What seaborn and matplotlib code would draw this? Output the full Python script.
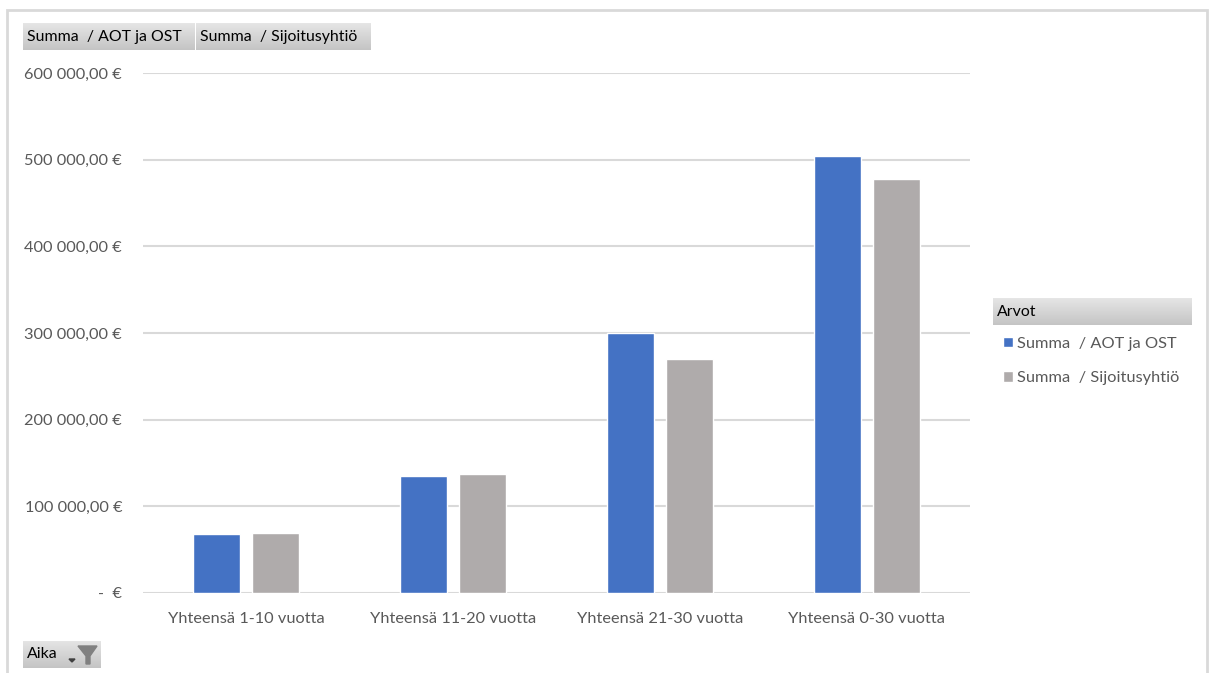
import numpy as np
import pandas as pd
import matplotlib
matplotlib.use("Agg")
import matplotlib.pyplot as plt
from matplotlib.patches import Rectangle, Polygon
import seaborn as sns

categories = ["Yhteensä 1-10 vuotta", "Yhteensä 11-20 vuotta",
              "Yhteensä 21-30 vuotta", "Yhteensä 0-30 vuotta"]
series_names = ["Summa  / AOT ja OST", "Summa  / Sijoitusyhtiö"]
aot_values = [68500, 135500, 300500, 504500]
sij_values = [69500, 137500, 270500, 477500]
y_ticks = [0, 100000, 200000, 300000, 400000, 500000, 600000]
legend_title = "Arvot"
filter_label = "Aika"

colors = ["#4472C4", "#AFABAB"]

df = pd.DataFrame({
    "Kategoria": categories * 2,
    "Sarja": [series_names[0]] * 4 + [series_names[1]] * 4,
    "Arvo": aot_values + sij_values,
})

sns.set_theme(style="white")
plt.rcParams['font.family'] = ['Lato', 'DejaVu Sans']

W, H = 1211, 673
fig = plt.figure(figsize=(W / 100, H / 100), dpi=100)

def fx(px):
    return px / W

def fy(py):
    return 1 - py / H

FS = 11.8

# plot area: x 143..970, y 73..593
ax = fig.add_axes([fx(143), fy(593), fx(970) - fx(143), (593 - 73) / H])
sns.barplot(data=df, x="Kategoria", y="Arvo", hue="Sarja", order=categories,
            hue_order=series_names, palette=colors, width=0.571, gap=0.2,
            saturation=1, ax=ax, legend=True)
handles, labels = ax.get_legend_handles_labels()
ax.get_legend().remove()

ax.set_ylim(0, 600000)
ax.set_xlim(-0.5, 3.5)
ax.set_yticks(y_ticks)

def fmt(v):
    if v == 0:
        return "-  €"
    s = f"{v:,.2f}".replace(",", " ").replace(".", ",")
    return s + " €"

ax.set_yticklabels([fmt(v) for v in y_ticks])
ax.yaxis.grid(True, color="#d9d9d9", linewidth=1.5)
ax.set_axisbelow(True)
for sp in ax.spines.values():
    sp.set_visible(False)
ax.tick_params(axis="y", length=0, pad=15, labelsize=FS, labelcolor="#595959")
ax.tick_params(axis="x", length=0, pad=13.5, labelsize=FS, labelcolor="#595959")
ax.set_xlabel("")
ax.set_ylabel("")

# outer border
fig.patches.append(Rectangle((fx(7), fy(690)), fx(1207) - fx(7), (690 - 10) / H,
                             transform=fig.transFigure, fill=False,
                             edgecolor="#d9d9d9", linewidth=2, zorder=0))

def gradient_button(x0, y0, x1, y1, text, fontsize=11.4, textpad=4):
    bax = fig.add_axes([fx(x0), fy(y1), fx(x1) - fx(x0), (y1 - y0) / H])
    grad = np.linspace(0.90, 0.77, 50).reshape(-1, 1)
    bax.imshow(np.dstack([grad, grad, grad]), aspect="auto",
               extent=[0, 1, 0, 1], origin="upper")
    bax.set_xlim(0, 1)
    bax.set_ylim(0, 1)
    bax.axis("off")
    fig.text(fx(x0 + textpad), fy((y0 + y1) / 2), text, ha="left", va="center",
             fontsize=fontsize, color="#000000")
    return bax

gradient_button(23, 23, 195, 50, series_names[0])
gradient_button(196, 23, 371, 50, series_names[1])
gradient_button(993, 298, 1192, 325, legend_title)
fb = gradient_button(23, 641, 101, 668, filter_label)
# filter icon (funnel) and small dropdown mark
funnel = Polygon([[fx(78), fy(646)], [fx(97), fy(646)], [fx(90), fy(656)],
                  [fx(90), fy(664)], [fx(86), fy(664)], [fx(86), fy(656)]],
                 closed=True, transform=fig.transFigure, color="#808080", zorder=5)
fig.patches.append(funnel)
fig.patches.append(Polygon([[fx(69), fy(659)], [fx(75), fy(659)], [fx(72), fy(662)]],
                           closed=True, transform=fig.transFigure, color="#404040", zorder=5))

# legend entries
fig.legend(handles, labels, loc="upper left", bbox_to_anchor=(fx(996), fy(330)),
           frameon=False, handlelength=0.65, handleheight=0.65, handletextpad=0.25,
           labelspacing=1.25, fontsize=FS, labelcolor="#595959", borderaxespad=0)

fig.savefig("out.png", dpi=100, facecolor="white")
